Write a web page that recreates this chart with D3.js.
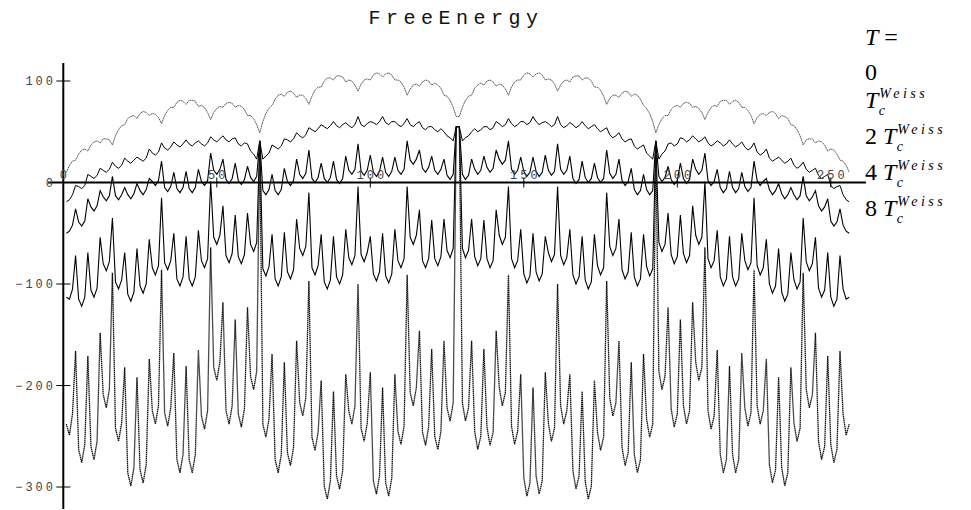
<!DOCTYPE html>
<html>
<head>
<meta charset="utf-8">
<script src="https://cdn.jsdelivr.net/npm/d3@7"></script>
<style>
  body { margin: 0; background: #fff; }
  svg { display: block; }
</style>
</head>
<body>
<div id="chart"></div>
<script>
// ---- data (index 1..256; left half 1..128, right half 129..256) ----
const xTicks = [0, 50, 100, 150, 200, 250];
const yTicks = [100, 0, -100, -200, -300];
const titleText = 'FreeEnergy';
const legendFactors = ['', '2', '4', '8'];

const freeT0Left = [10,17,21,22, 28,32,33,31, 37,40,41,39, 43,43,42,37, 46,52,56,57, 63,65,66,63, 68,70,69,66, 68,67,64,58,
  66,71,74,74, 79,81,80,77, 81,81,80,75, 76,74,69,62, 69,73,75,74, 78,79,78,74, 76,75,72,66, 66,63,57,49,
  60,68,73,76, 82,86,87,85, 89,90,88,84, 86,86,83,77, 85,91,94,94, 100,103,103,101, 105,105,104,99, 101,100,96,90,
  97,101,102,101, 106,108,107,104, 107,108,106,101, 101,99,94,86, 92,96,97,95, 99,101,100,96, 98,96,93,86, 85,81,74,65];
const freeT0Right = [65,74,81,85, 86,93,96,98, 96,100,101,99, 95,97,96,92, 86,94,99,101, 101,106,108,107, 104,107,108,106, 101,102,101,97,
  90,96,100,101, 99,104,105,105, 101,103,103,100, 94,94,91,85, 77,83,86,86, 84,88,90,89, 85,87,86,82, 76,73,68,60,
  49,57,63,66, 66,72,75,76, 74,78,79,78, 74,75,73,69, 62,69,74,76, 75,80,81,81, 77,80,81,79, 74,74,71,66,
  58,64,67,68, 66,69,70,68, 63,66,65,63, 57,56,52,46, 37,42,43,43, 39,41,40,37, 31,33,32,28, 22,21,17,10];

const freeTcLeft = [-19,-17,-12,-3, -4,-6,-3,8, 6,4,7,14, 12,10,13,20, 16,14,17,24, 21,19,22,25, 23,21,24,33, 29,27,30,39,
  34,32,35,40, 37,35,38,42, 38,36,39,41, 38,36,39,45, 42,40,43,46, 42,40,43,44, 38,36,39,38, 31,28,23,41,
  23,26,29,37, 35,33,36,43, 42,40,43,49, 46,44,47,54, 52,50,53,57, 55,53,56,60, 56,54,57,59, 56,54,57,65,
  57,55,58,60, 59,57,60,65, 59,57,60,60, 57,55,58,63, 57,55,58,60, 54,52,55,55, 52,50,53,50, 46,44,41,55];
const freeTcRight = [55,41,44,46, 50,53,50,52, 55,55,52,54, 60,58,55,57, 63,58,55,57, 60,60,57,59, 65,60,57,59, 60,58,55,57,
  65,57,54,56, 59,57,54,56, 60,56,53,55, 57,53,50,52, 54,47,44,46, 49,43,40,42, 43,36,33,35, 37,29,26,23,
  41,23,28,31, 38,39,36,38, 44,43,40,42, 46,43,40,42, 45,39,36,38, 41,39,36,38, 42,38,35,37, 40,35,32,34,
  39,30,27,29, 33,24,21,23, 25,22,19,21, 24,17,14,16, 20,13,10,12, 14,7,4,6, 8,-3,-6,-4, -3,-12,-17,-19];

const free2TcLeft = [-50,-48,-42,-26, -39,-43,-38,-16, -24,-28,-23,-8, -14,-18,-13,6, -13,-17,-12,-5, -12,-16,-11,-1, -8,-12,-7,4, 1,-3,2,21,
  -5,-9,-4,10, -6,-10,-5,11, -6,-10,-5,13, 1,-3,2,29, 12,8,13,23, 3,-1,4,19, 2,-2,3,16, 5,1,6,41,
  -8,-12,-7,8, -8,-12,-7,14, 1,-3,2,23, 8,4,9,32, 4,0,5,19, 4,0,5,21, 3,-1,4,26, 12,8,13,38,
  11,7,12,27, 10,6,11,25, 10,6,11,25, 12,8,13,41, 22,18,23,32, 14,10,15,26, 12,8,13,23, 7,3,8,55];
const free2TcRight = [55,8,3,7, 23,13,8,12, 26,15,10,14, 32,23,18,22, 41,13,8,12, 25,11,6,10, 25,11,6,10, 27,12,7,11,
  38,13,8,12, 26,4,-1,3, 21,5,0,4, 19,5,0,4, 32,9,4,8, 23,2,-3,1, 14,-7,-12,-8, 8,-7,-12,-8,
  41,6,1,5, 16,3,-2,2, 19,4,-1,3, 23,13,8,12, 29,2,-3,1, 13,-5,-10,-6, 11,-5,-10,-6, 10,-4,-9,-5,
  21,2,-3,1, 4,-7,-12,-8, -1,-11,-16,-12, -5,-12,-17,-13, 6,-13,-18,-14, -8,-23,-28,-24, -16,-38,-43,-39, -26,-42,-48,-50];

const free4TcLeft = [-113,-115,-105,-72, -115,-122,-113,-69, -106,-113,-104,-54, -80,-87,-78,-35, -98,-105,-96,-69, -110,-117,-108,-65, -102,-109,-100,-56, -84,-91,-82,-15,
  -79,-86,-77,-50, -95,-102,-93,-53, -95,-102,-93,-47, -77,-84,-75,1, -54,-61,-52,-23, -72,-79,-70,-32, -73,-80,-71,-30, -61,-68,-59,41,
  -85,-92,-83,-51, -95,-102,-93,-49, -88,-95,-86,-36, -65,-72,-63,-10, -84,-91,-82,-51, -98,-105,-96,-53, -93,-100,-91,-46, -74,-81,-72,-4,
  -71,-78,-69,-53, -90,-97,-88,-50, -92,-99,-90,-46, -77,-84,-75,-4, -54,-61,-52,-27, -77,-84,-75,-37, -75,-82,-73,-36, -67,-74,-65,55];
const free4TcRight = [55,-65,-74,-67, -36,-73,-82,-75, -37,-75,-84,-77, -27,-52,-61,-54, -4,-75,-84,-77, -46,-90,-99,-92, -50,-88,-97,-90, -53,-69,-78,-71,
  -4,-72,-81,-74, -46,-91,-100,-93, -53,-96,-105,-98, -51,-82,-91,-84, -10,-63,-72,-65, -36,-86,-95,-88, -49,-93,-102,-95, -51,-83,-92,-85,
  41,-59,-68,-61, -30,-71,-80,-73, -32,-70,-79,-72, -23,-52,-61,-54, 1,-75,-84,-77, -47,-93,-102,-95, -53,-93,-102,-95, -50,-77,-86,-79,
  -15,-82,-91,-84, -56,-100,-109,-102, -65,-108,-117,-110, -69,-96,-105,-98, -35,-78,-87,-80, -54,-104,-113,-106, -69,-113,-122,-115, -72,-105,-115,-113];

const free8TcLeft = [-238,-249,-228,-166, -263,-276,-258,-171, -260,-273,-255,-148, -209,-222,-204,-89, -242,-255,-237,-182, -286,-299,-281,-192, -283,-296,-278,-174, -225,-238,-220,-86,
  -227,-240,-222,-168, -273,-286,-268,-181, -273,-286,-268,-165, -230,-243,-225,-64, -182,-195,-177,-118, -225,-238,-220,-135, -228,-241,-223,-123, -191,-204,-186,41,
  -238,-251,-233,-169, -273,-286,-268,-177, -266,-279,-261,-156, -217,-230,-212,-97, -251,-264,-246,-195, -299,-312,-294,-206, -289,-302,-284,-189, -225,-238,-220,-100,
  -242,-255,-237,-187, -294,-307,-289,-202, -296,-309,-291,-189, -245,-258,-240,-91, -207,-220,-202,-146, -246,-259,-241,-164, -250,-263,-245,-156, -222,-235,-217,55];
const free8TcRight = [55,-217,-235,-222, -156,-245,-263,-250, -164,-241,-259,-246, -146,-202,-220,-207, -91,-240,-258,-245, -189,-291,-309,-296, -202,-289,-307,-294, -187,-237,-255,-242,
  -100,-220,-238,-225, -189,-284,-302,-289, -206,-294,-312,-299, -195,-246,-264,-251, -97,-212,-230,-217, -156,-261,-279,-266, -177,-268,-286,-273, -169,-233,-251,-238,
  41,-186,-204,-191, -123,-223,-241,-228, -135,-220,-238,-225, -118,-177,-195,-182, -64,-225,-243,-230, -165,-268,-286,-273, -181,-268,-286,-273, -168,-222,-240,-227,
  -86,-220,-238,-225, -174,-278,-296,-283, -192,-281,-299,-286, -182,-237,-255,-242, -89,-204,-222,-209, -148,-255,-273,-260, -171,-258,-276,-263, -166,-228,-249,-238];

const series = [
  { key: 'T0',  values: freeT0Left.concat(freeT0Right),  stroke: '#444', width: 0.9, dash: '1.6,0.5' },
  { key: 'Tc',  values: freeTcLeft.concat(freeTcRight),  stroke: '#000', width: 1,   dash: null },
  { key: '2Tc', values: free2TcLeft.concat(free2TcRight), stroke: '#000', width: 1.1, dash: null },
  { key: '4Tc', values: free4TcLeft.concat(free4TcRight), stroke: '#000', width: 1.1, dash: null },
  { key: '8Tc', values: free8TcLeft.concat(free8TcRight), stroke: '#111', width: 1.3, dash: '1.5,0.5' }
];

// ---- chart ----
const width = 971, height = 510;
const svg = d3.select('#chart').append('svg')
  .attr('width', width)
  .attr('height', height);

const x = d3.scaleLinear().domain([0, 250]).range([63.3, 830.8]);
const y = d3.scaleLinear().domain([100, -300]).range([81, 487]);

const monoFont = '"Liberation Mono", "DejaVu Sans Mono", monospace';
const serifFont = '"Liberation Serif", "DejaVu Serif", serif';

// title
svg.append('text')
  .attr('x', 456)
  .attr('y', 24)
  .attr('text-anchor', 'middle')
  .attr('font-family', monoFont)
  .attr('font-size', 20)
  .attr('letter-spacing', 5.5)
  .attr('fill', '#111')
  .text(titleText);

// lines
const line = d3.line()
  .x((d, i) => x(i + 1))
  .y(d => y(d));

svg.append('g').attr('class', 'lines')
  .selectAll('path')
  .data(series)
  .join('path')
  .attr('fill', 'none')
  .attr('stroke', d => d.stroke)
  .attr('stroke-width', d => d.width)
  .attr('stroke-dasharray', d => d.dash)
  .attr('stroke-linejoin', 'miter')
  .attr('d', d => line(d.values));

// axes
const axisG = svg.append('g').attr('class', 'axes');
axisG.append('line')
  .attr('x1', 48).attr('x2', 866)
  .attr('y1', y(0)).attr('y2', y(0))
  .attr('stroke', '#000').attr('stroke-width', 2);
axisG.append('line')
  .attr('x1', x(0)).attr('x2', x(0))
  .attr('y1', 63).attr('y2', 509)
  .attr('stroke', '#000').attr('stroke-width', 2);

// y ticks + labels
axisG.selectAll('line.ytick')
  .data(yTicks)
  .join('line')
  .attr('class', 'ytick')
  .attr('x1', x(0) - 7).attr('x2', x(0) + 7)
  .attr('y1', d => y(d)).attr('y2', d => y(d))
  .attr('stroke', '#000').attr('stroke-width', 1);

axisG.selectAll('text.ylab')
  .data(yTicks)
  .join('text')
  .attr('class', 'ylab')
  .attr('x', 56)
  .attr('y', d => y(d) + 4)
  .attr('text-anchor', 'end')
  .attr('font-family', monoFont)
  .attr('font-size', 12)
  .attr('letter-spacing', 3)
  .attr('fill', '#444')
  .text(d => (d < 0 ? '\u2212' + Math.abs(d) : d));

// x ticks + labels (labels sit above the axis)
axisG.selectAll('line.xtick')
  .data(xTicks.filter(d => d > 0))
  .join('line')
  .attr('class', 'xtick')
  .attr('x1', d => x(d)).attr('x2', d => x(d))
  .attr('y1', y(0) - 5).attr('y2', y(0) + 5)
  .attr('stroke', '#000').attr('stroke-width', 1);

axisG.selectAll('text.xlab')
  .data(xTicks)
  .join('text')
  .attr('class', 'xlab')
  .attr('x', d => x(d) + 1.5)
  .attr('y', y(0) - 4)
  .attr('text-anchor', 'middle')
  .attr('font-family', monoFont)
  .attr('font-size', 12)
  .attr('letter-spacing', 3)
  .attr('fill', '#444')
  .text(d => d);

// legend
const legend = svg.append('g').attr('class', 'legend');
const lx = 865;

legend.append('text')
  .attr('x', lx).attr('y', 45)
  .attr('font-family', serifFont).attr('font-size', 24)
  .html('<tspan font-style="italic">T</tspan> =');

legend.append('text')
  .attr('x', lx).attr('y', 80)
  .attr('font-family', serifFont).attr('font-size', 24)
  .text('0');

const legendBaselines = [108, 144, 180, 216];
legendFactors.forEach((f, i) => {
  const base = legendBaselines[i];
  const t = legend.append('text')
    .attr('x', lx).attr('y', base)
    .attr('font-family', serifFont).attr('font-size', 24);
  if (f) t.append('tspan').text(f + ' ');
  t.append('tspan').attr('font-style', 'italic').text('T');
  const tEnd = lx + t.node().getComputedTextLength();
  t.append('tspan')
    .attr('x', tEnd + 1).attr('dy', -10)
    .attr('font-size', 14).attr('font-style', 'italic')
    .attr('letter-spacing', 3.5)
    .text('Weiss');
  t.append('tspan')
    .attr('x', tEnd + 0.5).attr('dy', 17)
    .attr('font-size', 14).attr('font-style', 'italic')
    .text('c');
});
</script>
</body>
</html>
